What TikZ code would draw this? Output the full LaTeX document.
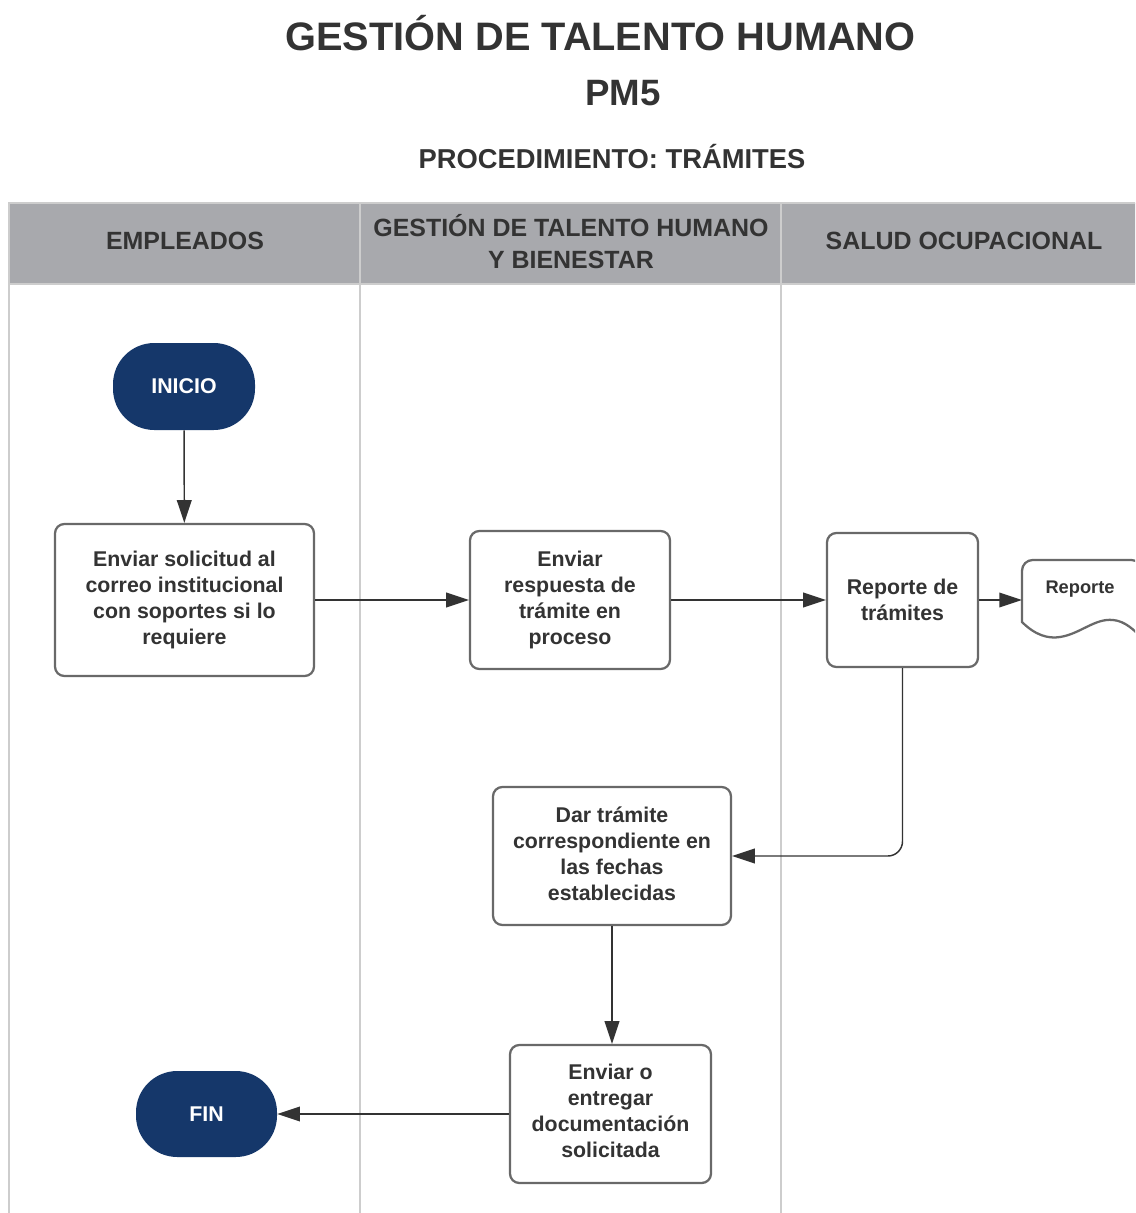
\documentclass[tikz,border=0pt]{standalone}
\usepackage{fontspec}
\setmainfont{Liberation Sans}
\usetikzlibrary{arrows.meta}
\definecolor{ink}{HTML}{333333}
\definecolor{navy}{HTML}{15376A}
\definecolor{band}{HTML}{A8A9AD}
\definecolor{lanerule}{HTML}{CDCDCD}
\definecolor{edge}{HTML}{696969}

\tikzset{
  wh/.style 2 args={minimum width=#1*0.75pt, minimum height=#2*0.75pt},
  stepbox/.style={draw=edge, line width=1.7pt, rounded corners=7pt, fill=white,
    align=center, text=ink, inner sep=0pt,
    font=\fontsize{16}{19.5}\selectfont\bfseries},
  terminal/.style={fill=navy, rounded corners=31pt, text=white, inner sep=0pt,
    font=\fontsize{16}{19}\selectfont\bfseries},
  flow/.style={draw=ink, line width=1.1pt, -{Triangle[length=17pt,width=11pt]}},
  lane/.style={draw=lanerule, line width=2.2pt},
  lanehead/.style={text=ink, align=center, inner sep=0pt,
    font=\fontsize{18.7}{23}\selectfont\bfseries},
  titletext/.style={text=ink, inner sep=0pt, font=\bfseries}
}

\begin{document}
\begin{tikzpicture}[x=0.75pt, y=-0.75pt]
  \useasboundingbox (0,0) rectangle (1135,1213);
  \clip (0,0) rectangle (1135,1213);

  % titles
  \node[titletext, font=\fontsize{29.8}{34}\selectfont\bfseries] (title) at (600.5,33) {GESTIÓN DE TALENTO HUMANO};
  \node[titletext, font=\fontsize{27.5}{32}\selectfont\bfseries] (code) at (623,93) {PM5};
  \node[titletext, font=\fontsize{20.5}{24}\selectfont\bfseries] (proc) at (612,157) {PROCEDIMIENTO: TRÁMITES};

  % swimlane header band and lane rules
  \fill[band] (9,203) rectangle (1140,284);
  \draw[lane] (1140,203) -- (9,203) -- (9,1213);
  \draw[lane] (9,284) -- (1140,284);
  \draw[lane] (360,203) -- (360,1213);
  \draw[lane] (781,203) -- (781,1213);

  \node[lanehead] (h1) at (185,241) {EMPLEADOS};
  \node[lanehead] (h2) at (571,242) {GESTIÓN DE TALENTO HUMANO\\[1pt]Y BIENESTAR};
  \node[lanehead] (h3) at (964,241) {SALUD OCUPACIONAL};

  % terminals
  \node[terminal, wh={142}{87}] (inicio) at (184,386.5) {INICIO};
  \node[terminal, wh={141}{86}] (fin) at (206.5,1114) {FIN};

  % process steps
  \node[stepbox, wh={259}{152}] (solicitud) at (184.5,600)
    {Enviar solicitud al\\correo institucional\\con soportes si lo\\requiere};
  \node[stepbox, wh={200}{138}] (respuesta) at (570,600)
    {Enviar\\respuesta de\\trámite en\\proceso};
  \node[stepbox, wh={151}{134}] (reporte) at (902.5,600)
    {Reporte de\\trámites};
  \node[stepbox, wh={238}{138}] (tramite) at (612,856)
    {Dar trámite\\correspondiente en\\las fechas\\establecidas\rule[-0.5ex]{0pt}{0pt}};
  \node[stepbox, wh={201}{138}] (entrega) at (610.5,1114)
    {Enviar o\\entregar\\documentación\\solicitada\rule[-0.5ex]{0pt}{0pt}};

  % document symbol
  \draw[draw=edge, line width=1.7pt, fill=white]
    (1022,622) [rounded corners=8pt] -- (1022,560) -- (1142,560) [sharp corners] -- (1142,638)
    .. controls (1134,630) and (1125,621) .. (1113,620)
    .. controls (1095,618) and (1080,634) .. (1060,637)
    .. controls (1048,639) and (1035,635) .. (1022,622) -- cycle;
  \node[text=ink, inner sep=0pt, font=\fontsize{13.7}{16}\selectfont\bfseries] (doc) at (1080,589) {Reporte};
  \coordinate (docin) at (1022,600);

  % connectors
  \draw[flow] (inicio) -- (solicitud);
  \draw[flow] (solicitud) -- (respuesta);
  \draw[flow] (respuesta) -- (reporte);
  \draw[flow] (reporte.east) -- (docin);
  \draw[flow, rounded corners=11pt] (reporte.south) |- (tramite.east);
  \draw[flow] (tramite.south) -- (tramite.south |- entrega.north);
  \draw[flow] (entrega) -- (fin);
\end{tikzpicture}
\end{document}
